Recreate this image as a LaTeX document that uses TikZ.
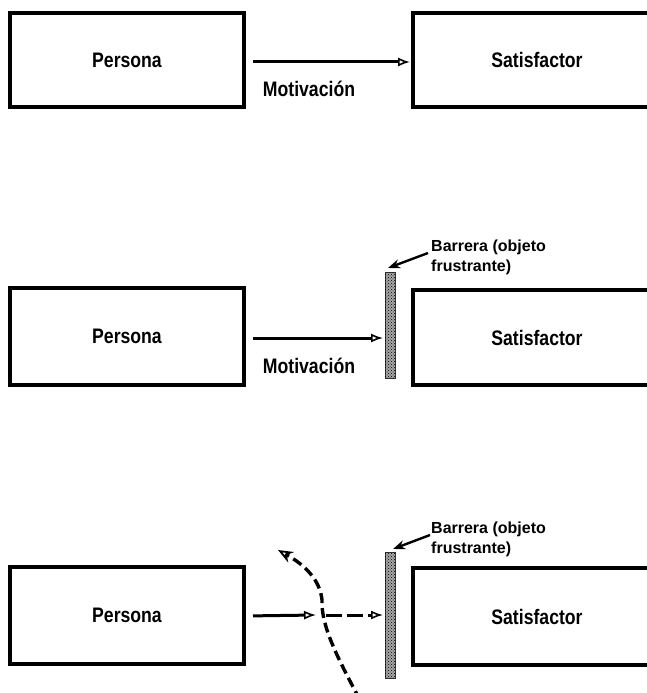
\documentclass[tikz,border=0pt]{standalone}
\usepackage{fontspec}
\setmainfont{Liberation Sans}
\usetikzlibrary{arrows.meta,patterns}
\newcommand{\biglbl}[1]{\scalebox{0.84}[1]{\fontsize{21}{25}\selectfont\bfseries #1}}
\begin{document}
\begin{tikzpicture}[x=1pt,y=-1pt,
  box/.style={draw,line width=3.3pt,rectangle,inner sep=0pt,outer sep=0pt,minimum width=#1},
  box/.default=234pt,
  bar/.style={rectangle,inner sep=0pt,outer sep=0pt,minimum width=10pt,minimum height=106pt,
     fill=gray!70,draw=black!80,line width=1pt},
  arr/.style={line width=3pt,-{Latex[open,length=12pt,width=9pt,line width=1.6pt]}},
  larr/.style={line width=2.4pt,-{Stealth[length=12pt,width=9pt]}},
  curarr/.style={line width=3.4pt,dash pattern=on 10pt off 5pt,-{Stealth[length=15pt,width=12pt,open,line width=1.8pt]}},
  mot/.style={inner sep=0pt},
  blabel/.style={anchor=north west,align=left,inner sep=0pt,font=\fontsize{16}{19.5}\selectfont\bfseries}
]
\useasboundingbox (0,0) rectangle (647,693);
\clip (0,0) rectangle (647,693);

% Row 1
\node[box,minimum height=94pt] (L1) at (127,60) {\biglbl{Persona}};
\node[box=248pt,minimum height=94pt] (R1) at (537,60) {\biglbl{Satisfactor}};
\draw[arr,shorten <=9pt,shorten >=3pt] ([yshift=-2pt]L1.east) -- ([yshift=-2pt]R1.west);
\node[mot] (m1) at (309,89) {\biglbl{Motivación}};

% Row 2
\node[box,minimum height=97pt] (L2) at (127,336.5) {\biglbl{Persona}};
\node[box=248pt,minimum height=95pt] (R2) at (537,337.5) {\biglbl{Satisfactor}};
\node[bar] (B2) at (390,325) {};
\fill[pattern=crosshatch dots,pattern color=black] (B2.north west) rectangle (B2.south east);
\draw[arr,shorten <=9pt,shorten >=2pt] ([yshift=-1.5pt]L2.east) -- ([yshift=-1.5pt]L2.east -| B2.west);
\node[mot] (m2) at (309,366) {\biglbl{Motivación}};
\node[blabel] (t2) at (431,240) {Barrera (objeto\\frustrante)};
\coordinate (a2s) at (428,253);
\coordinate (a2e) at (388,268);
\draw[larr] (a2s) -- (a2e);

% Row 3
\node[box,minimum height=97pt] (L3) at (127,615.5) {\biglbl{Persona}};
\node[box=248pt,minimum height=97pt] (R3) at (537,616.5) {\biglbl{Satisfactor}};
\node[bar,minimum height=126pt] (B3) at (390,615) {};
\fill[pattern=crosshatch dots,pattern color=black] (B3.north west) rectangle (B3.south east);
\coordinate (X3) at (316,615);
\coordinate (Y3) at (326,615);
\draw[arr,shorten <=9pt] ([yshift=-0.5pt]L3.east) -- (X3);
\draw[arr,dash pattern=on 16pt off 5pt,shorten >=2pt] (Y3) -- (Y3 -| B3.west);
\node[blabel] (t3) at (431,522) {Barrera (objeto\\frustrante)};
\coordinate (a3s) at (430,535);
\coordinate (a3e) at (393,549);
\draw[larr] (a3s) -- (a3e);
\coordinate (cS) at (360,700);
\coordinate (cM) at (322,600);
\coordinate (cE) at (278,550);
\draw[curarr] (cS) .. controls (336,655) and (321,625) .. (cM) .. controls (320,580) and (305,565) .. (cE);
\end{tikzpicture}
\end{document}
